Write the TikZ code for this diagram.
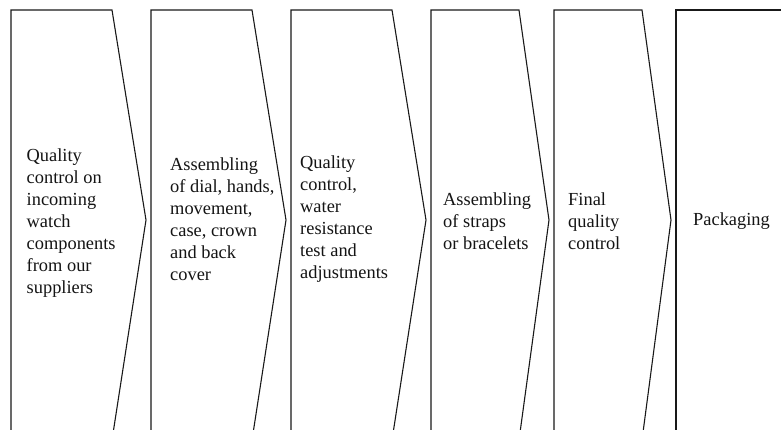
\documentclass[tikz,border=0pt]{standalone}
\usepackage{fontspec}
\setmainfont{Liberation Serif}
\begin{document}
\begin{tikzpicture}[x=1pt,y=-1pt,
  chevron/.style={draw=black!90,line width=1.1pt,line join=miter},
  steplabel/.style={anchor=west,inner sep=0pt,align=left,text=black!92,
    font=\fontsize{18.4}{22}\selectfont}]
\useasboundingbox (0,0) rectangle (781,429);
\clip (0,0) rectangle (781,429);
% process chevrons (open at the bottom of the frame)
\draw[chevron] (11,440) -- (11,10) -- (112,10) -- (146,220) -- (112,440);
\draw[chevron] (151,440) -- (151,10) -- (252,10) -- (286,220) -- (252,440);
\draw[chevron] (291,440) -- (291,10) -- (392,10) -- (426,220) -- (392,440);
\draw[chevron] (431,440) -- (431,10) -- (519,10) -- (549,220) -- (519,440);
\draw[chevron] (554,440) -- (554,10) -- (642,10) -- (671,220) -- (642,440);
\draw[chevron] (676,440) -- (676,10) -- (800,10);
% step labels
\node[steplabel] (s1) at (26.5,223) {Quality\\control on\\incoming\\watch\\components\\from our\\suppliers};
\node[steplabel] (s2) at (170,219) {Assembling\\of dial, hands,\\movement,\\case, crown\\and back\\cover};
\node[steplabel] (s3) at (300,219) {Quality\\control,\\water\\resistance\\test and\\adjustments};
\node[steplabel] (s4) at (443,221) {Assembling\\of straps\\or bracelets};
\node[steplabel] (s5) at (568,221) {Final\\quality\\control};
\node[steplabel] (s6) at (693,221) {Packaging};
\end{tikzpicture}
\end{document}
